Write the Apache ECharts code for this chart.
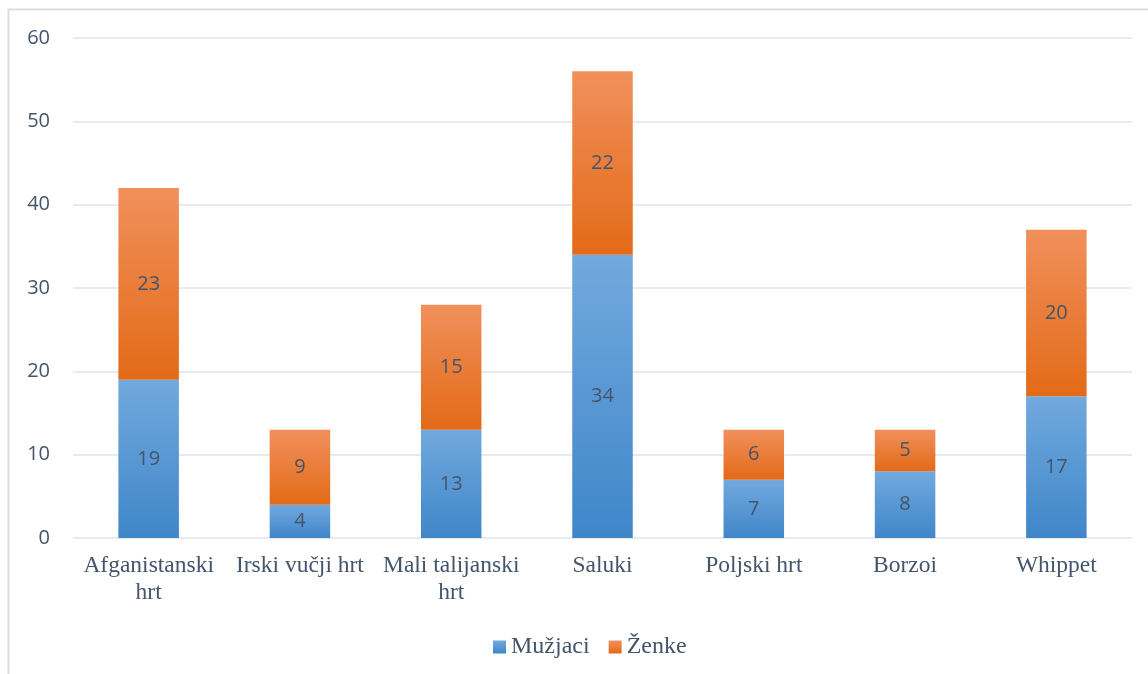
<!DOCTYPE html>
<html>
<head>
<meta charset="utf-8">
<script src="https://cdn.jsdelivr.net/npm/echarts@6/dist/echarts.min.js"></script>
<style>
html,body{margin:0;padding:0;background:#fff;}
#chart{width:1148px;height:674px;}
</style>
</head>
<body>
<div id="chart"></div>
<script>
const categories = ['Afganistanski\nhrt', 'Irski vučji hrt', 'Mali talijanski\nhrt', 'Saluki', 'Poljski hrt', 'Borzoi', 'Whippet'];
const muzjaci = [19, 4, 13, 34, 7, 8, 17];
const zenke = [23, 9, 15, 22, 6, 5, 20];
const seriesNames = ['Mužjaci', 'Ženke'];

const textColor = '#44546a';
const chart = echarts.init(document.getElementById('chart'));

function grad(top, bottom) {
  return new echarts.graphic.LinearGradient(0, 0, 0, 1, [
    { offset: 0, color: top },
    { offset: 1, color: bottom }
  ]);
}

const labelCfg = {
  show: true,
  position: 'inside',
  color: textColor,
  fontFamily: 'Open Sans',
  fontSize: 20
};

chart.setOption({
  animation: false,
  graphic: [{
    type: 'rect',
    shape: { x: 8.5, y: 9.5, width: 1200, height: 700 },
    style: { fill: 'none', stroke: '#d9dee6', lineWidth: 2 },
    silent: true
  }],
  grid: { left: 73, right: 16, top: 38, bottom: 136 },
  legend: {
    top: 630,
    left: 488,
    itemWidth: 13,
    itemHeight: 13,
    itemGap: 19,
    icon: 'rect',
    textStyle: { color: textColor, fontFamily: 'Liberation Serif', fontSize: 24 },
    data: seriesNames
  },
  xAxis: {
    type: 'category',
    data: categories,
    axisLine: { show: false },
    axisTick: { show: false },
    axisLabel: {
      color: textColor,
      fontFamily: 'Liberation Serif',
      fontSize: 23.5,
      lineHeight: 27,
      margin: 14,
      interval: 0
    }
  },
  yAxis: {
    type: 'value',
    min: 0,
    max: 60,
    interval: 10,
    axisLine: { show: false },
    axisTick: { show: false },
    axisLabel: {
      color: textColor,
      fontFamily: 'Open Sans',
      fontSize: 20,
      margin: 23
    },
    splitLine: { lineStyle: { color: '#dfe3ea', width: 1.5 } }
  },
  series: [
    {
      name: seriesNames[0],
      type: 'bar',
      stack: 'total',
      barWidth: '40%',
      data: muzjaci,
      itemStyle: { color: grad('#72a9de', '#3f86c9') },
      label: labelCfg
    },
    {
      name: seriesNames[1],
      type: 'bar',
      stack: 'total',
      barWidth: '40%',
      data: zenke,
      itemStyle: { color: grad('#f1905c', '#e36a17') },
      label: labelCfg
    }
  ]
});
</script>
</body>
</html>
